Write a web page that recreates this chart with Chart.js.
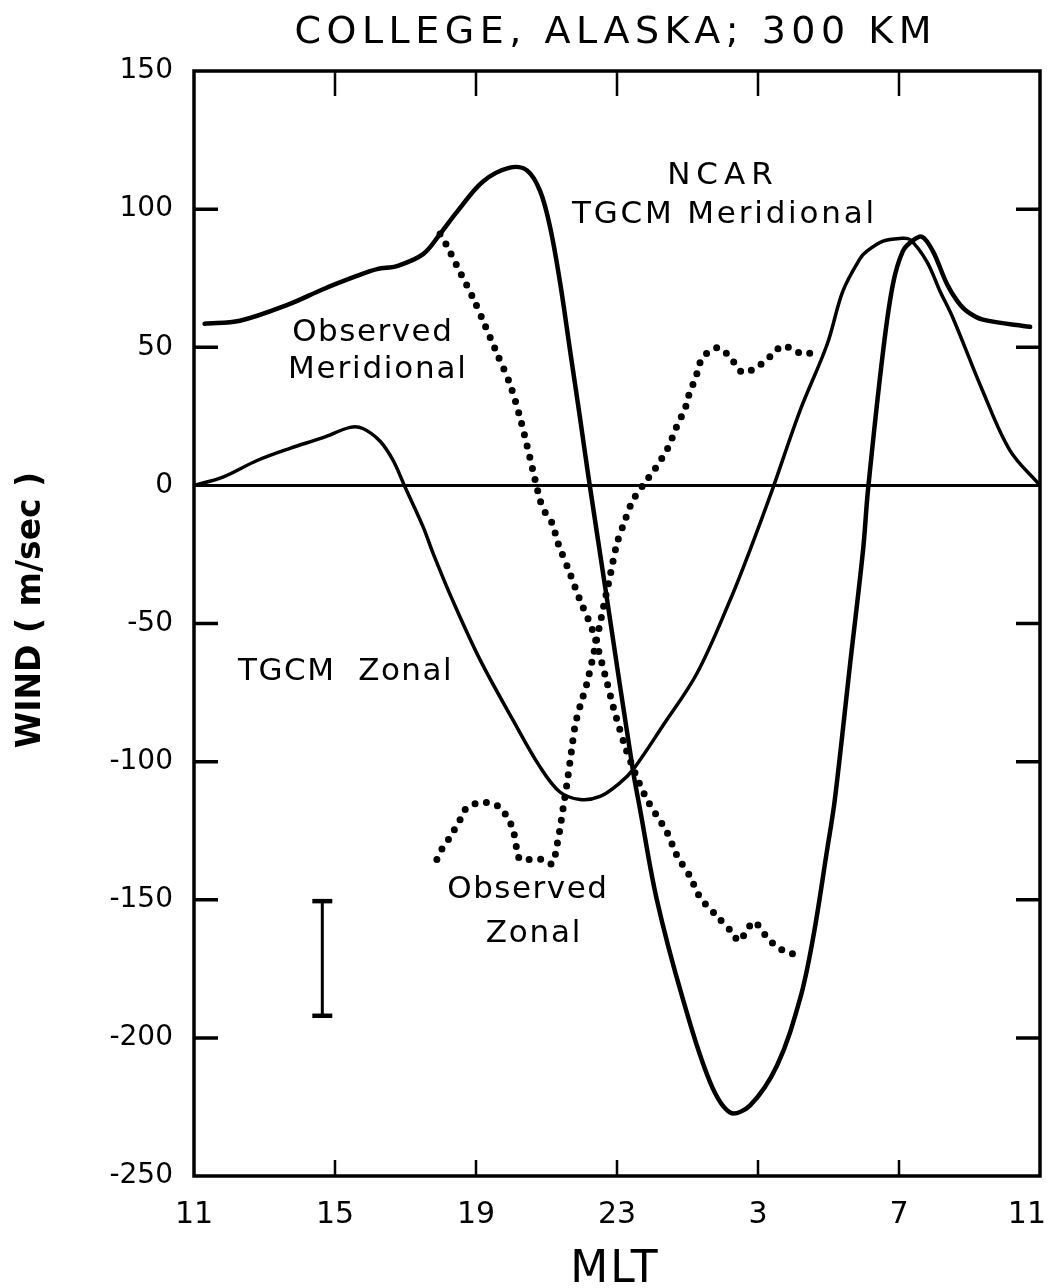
<!DOCTYPE html>
<html>
<head>
<meta charset="utf-8">
<title>College, Alaska; 300 km wind versus MLT</title>
<script src="https://cdn.jsdelivr.net/npm/chart.js@4.4.1/dist/chart.umd.min.js"></script>
<style>
  html, body { margin: 0; padding: 0; background: #fff; }
  #wrap { width: 1047px; height: 1288px; }
  canvas { display: block; }
</style>
</head>
<body>
<div id="wrap"><canvas id="chart" width="1047" height="1288"></canvas></div>
<script>
// MLT runs from 11 through midnight to 11 the next day; hours past 24
// are printed back on the clock face.
const hourTicks  = [11, 15, 19, 23, 27, 31, 35];
const hourLabels = ['11', '15', '19', '23', '3', '7', '11'];
const windTicks  = [150, 100, 50, 0, -50, -100, -150, -200, -250];

// NCAR TGCM meridional wind, m/s
const tgcmMeridHours = [11.30, 12.30, 13.72, 14.66, 15.62, 16.19, 16.76, 17.50, 17.98, 18.46,
  19.20, 19.96, 20.45, 20.82, 21.11, 21.39, 21.67, 21.95, 22.18, 22.72,
  23.45, 23.65, 24.13, 24.87, 25.64, 26.21, 26.77, 27.54, 28.19, 28.56,
  28.96, 29.18, 29.61, 29.98, 30.12, 30.55, 30.83, 31.11, 31.37, 31.65,
  31.96, 32.36, 32.65, 32.93, 33.38, 34.72];
const tgcmMeridWind = [58.5, 59.6, 65.7, 71.0, 75.8, 78.3, 79.4, 83.7, 91.0, 99.0,
  110.0, 115.0, 114.0, 106.5, 93.0, 73.0, 48.7, 24.5, 4.0, -41.5,
  -103.0, -117.0, -150.0, -186.0, -216.0, -227.0, -224.5, -210.0, -186.0, -164.0,
  -132.0, -113.7, -65.0, -23.5, -1.8, 48.7, 73.0, 84.8, 88.4, 90.0,
  84.8, 72.9, 66.8, 63.0, 60.0, 57.4];

// NCAR TGCM zonal wind, m/s
const tgcmZonalHours = [11.00, 11.82, 12.79, 13.72, 14.66, 15.43, 15.79, 16.28, 16.65, 16.99,
  17.50, 17.78, 18.35, 19.11, 20.05, 20.82, 21.38, 21.95, 22.52, 23.09,
  23.45, 24.30, 25.27, 26.21, 26.77, 27.40, 28.19, 28.96, 29.41, 29.89,
  30.09, 30.55, 31.03, 31.31, 31.79, 32.16, 32.53, 33.38, 34.15, 35.00];
const tgcmZonalWind = [0, 3, 9, 13.4, 17.3, 21, 20.6, 16, 9, -0.7,
  -15, -24.5, -42, -63, -85, -102, -111, -113.7, -112.6, -107.6,
  -103, -87, -68, -41.5, -23.5, -1.8, 27, 51, 70.4, 82,
  84.8, 88.4, 89.4, 89, 81, 70.4, 60.6, 34, 12.6, 0];

// Observed meridional wind, m/s
const obsMeridHours = [17.98, 18.18, 18.46, 18.91, 19.20, 19.60, 19.96, 20.25, 20.53, 20.82,
  20.96, 21.16, 21.33, 21.64, 21.95, 22.32, 22.72, 22.89, 23.23, 23.51,
  23.85, 24.42, 24.70, 25.07, 25.35, 25.84, 26.26, 26.46, 26.69, 26.89,
  27.28, 27.54, 27.82, 28.11];
const obsMeridWind = [91, 86.6, 79.4, 68, 59.6, 47.6, 36.8, 24.5, 10, -5.4,
  -9.7, -13.7, -21, -31, -41.5, -53, -71.5, -80, -94.5, -104,
  -113.7, -125.6, -134, -141.5, -149, -156, -161.7, -165, -161, -158,
  -164, -167, -169, -170];

// Observed zonal wind, m/s
const obsZonalHours = [17.89, 18.06, 18.26, 18.55, 18.74, 19.06, 19.40, 19.68, 19.88, 20.05,
  20.16, 20.25, 20.53, 20.87, 21.16, 21.30, 21.38, 21.47, 21.58, 21.70,
  21.81, 21.95, 22.15, 22.32, 22.52, 22.60, 22.80, 23.00, 23.23, 23.45,
  23.88, 24.08, 24.28, 24.45, 24.59, 24.73, 24.87, 24.99, 25.07, 25.21,
  25.30, 25.41, 25.64, 25.87, 26.12, 26.35, 26.57, 26.86, 27.14, 27.43,
  27.68, 27.96, 28.25, 28.53];
const obsZonalWind = [-135.4, -131, -127.4, -121, -116.6, -115, -115, -116.6, -120, -124.5,
  -131.8, -135.4, -135.4, -135.4, -137, -130, -124.5, -117, -108, -97,
  -87, -80, -71.5, -62, -50, -45, -33, -21, -12.6, -5.4,
  2.5, 6, 10, 13.7, 18, 22.4, 26, 30, 34.3, 38,
  42, 46, 48.7, 49.8, 47.6, 44, 40.8, 42, 44.4, 47.6,
  50.5, 49.5, 47.6, 48];

// Typical measurement uncertainty bar
const errorBarHours = [14.64, 14.64];
const errorBarWind  = [-150.5, -192];

// Curve labels, anchored in (MLT hour, wind) coordinates at their baseline centre
const notes = [
  { text: 'NCAR',            hour: 25.92, wind: 109.1,  spacing: 6 },
  { text: 'TGCM Meridional', hour: 26.01, wind: 95.0,   spacing: 2.8 },
  { text: 'Observed',        hour: 16.05, wind: 52.3,   spacing: 1.5 },
  { text: 'Meridional',      hour: 16.19, wind: 38.9,   spacing: 1.8 },
  { text: 'TGCM  Zonal',     hour: 15.28, wind: -70.6,  spacing: 1.5 },
  { text: 'Observed',        hour: 20.45, wind: -149.5, spacing: 1.5 },
  { text: 'Zonal',           hour: 20.62, wind: -165.4, spacing: 1.8 }
];

const toPoints = (hours, wind) => hours.map((h, i) => ({ x: h, y: wind[i] }));

const FONT = "'DejaVu Sans', 'Liberation Sans', sans-serif";

function spacedText(ctx, text, cx, baseline, spacing) {
  ctx.letterSpacing = spacing + 'px';
  const w = ctx.measureText(text).width - spacing;
  ctx.textAlign = 'left';
  ctx.textBaseline = 'alphabetic';
  ctx.fillText(text, cx - w / 2, baseline);
  ctx.letterSpacing = '0px';
}

// Box frame with inward ticks, the zero line, hour labels and all free text.
const framePlugin = {
  id: 'frame',
  beforeDatasetsDraw(chart) {
    const { ctx, chartArea: a, scales: { x, y } } = chart;
    ctx.save();
    ctx.strokeStyle = '#000';
    ctx.lineCap = 'butt';

    ctx.lineWidth = 3;
    const y0 = y.getPixelForValue(0);
    ctx.beginPath();
    ctx.moveTo(a.left, y0);
    ctx.lineTo(a.right, y0);
    ctx.stroke();

    ctx.lineWidth = 3.5;
    ctx.beginPath();
    ctx.rect(a.left, a.top, a.right - a.left, a.bottom - a.top);
    ctx.stroke();

    ctx.lineWidth = 3.5;
    ctx.beginPath();
    windTicks.forEach(v => {
      if (v === 0 || v === windTicks[0] || v === windTicks[windTicks.length - 1]) return;
      const py = y.getPixelForValue(v);
      ctx.moveTo(a.left, py);  ctx.lineTo(a.left + 24, py);
      ctx.moveTo(a.right, py); ctx.lineTo(a.right - 24, py);
    });
    ctx.stroke();

    ctx.lineWidth = 2.5;
    ctx.beginPath();
    hourTicks.slice(1, -1).forEach(h => {
      const px = x.getPixelForValue(h);
      ctx.moveTo(px, a.top);    ctx.lineTo(px, a.top + 25);
      ctx.moveTo(px, a.bottom); ctx.lineTo(px, a.bottom - 16);
    });
    ctx.stroke();
    ctx.restore();
  },
  afterDraw(chart) {
    const { ctx, chartArea: a, scales: { x, y } } = chart;
    const W = chart.width;
    ctx.save();
    ctx.fillStyle = '#000';

    // hour labels under the x axis, kept inside the canvas at the right end
    ctx.font = `30px ${FONT}`;
    ctx.textAlign = 'left';
    ctx.textBaseline = 'alphabetic';
    hourTicks.forEach((h, i) => {
      const label = hourLabels[i];
      const w = ctx.measureText(label).width;
      const left = Math.min(x.getPixelForValue(h) - w / 2, W - w - 1);
      ctx.fillText(label, left, a.bottom + 47);
    });

    ctx.font = `38px ${FONT}`;
    spacedText(ctx, 'COLLEGE, ALASKA; 300 KM', 613, 43, 5.5);

    ctx.font = `44px ${FONT}`;
    spacedText(ctx, 'MLT', 614, 1282, 2);

    ctx.save();
    ctx.translate(31, 610);
    ctx.rotate(-Math.PI / 2);
    ctx.font = `bold 33px ${FONT}`;
    ctx.letterSpacing = '0px';
    ctx.textAlign = 'center';
    ctx.textBaseline = 'middle';
    ctx.fillText('WIND ( m/sec )', 0, 0);
    ctx.restore();

    ctx.font = `31px ${FONT}`;
    notes.forEach(n => {
      spacedText(ctx, n.text, x.getPixelForValue(n.hour), y.getPixelForValue(n.wind), n.spacing);
    });
    ctx.restore();
  }
};

const solid = (data, width) => ({
  data, showLine: true, borderColor: '#000', borderWidth: width,
  pointRadius: 0, tension: 0.35,
  borderCapStyle: 'round', borderJoinStyle: 'round'
});
const dotted = (data) => ({
  data, showLine: true, borderColor: '#000', borderWidth: 7,
  borderDash: [0, 11.5], borderCapStyle: 'round',
  pointRadius: 0, tension: 0.3
});

const noPadding = s => { s.paddingLeft = 0; s.paddingRight = 0; s.paddingTop = 0; s.paddingBottom = 0; };

new Chart(document.getElementById('chart'), {
  type: 'scatter',
  data: {
    datasets: [
      solid(toPoints(tgcmMeridHours, tgcmMeridWind), 4.5),
      solid(toPoints(tgcmZonalHours, tgcmZonalWind), 3.5),
      dotted(toPoints(obsMeridHours, obsMeridWind)),
      dotted(toPoints(obsZonalHours, obsZonalWind)),
      {
        data: toPoints(errorBarHours, errorBarWind), showLine: true,
        borderColor: '#000', borderWidth: 3,
        pointStyle: 'line', pointRadius: 10, pointBorderWidth: 4.5,
        pointBorderColor: '#000'
      }
    ]
  },
  options: {
    responsive: false,
    animation: false,
    events: [],
    devicePixelRatio: 1,
    layout: { autoPadding: false, padding: { top: 71, right: 7, left: 0, bottom: 0 } },
    plugins: { legend: { display: false }, tooltip: { enabled: false }, title: { display: false } },
    scales: {
      x: {
        type: 'linear', position: 'bottom',
        min: hourTicks[0], max: hourTicks[hourTicks.length - 1],
        afterBuildTicks: s => { s.ticks = hourTicks.map(v => ({ value: v })); },
        afterFit: s => { s.height = 112; noPadding(s); },
        grid: { display: false, drawTicks: false },
        border: { display: false },
        ticks: { display: false }
      },
      y: {
        type: 'linear', position: 'left',
        min: windTicks[windTicks.length - 1], max: windTicks[0],
        afterBuildTicks: s => { s.ticks = windTicks.map(v => ({ value: v })); },
        afterFit: s => { s.width = 194; noPadding(s); },
        grid: { display: false, drawTicks: false },
        border: { display: false },
        ticks: {
          padding: 21, color: '#000',
          font: { family: FONT, size: 28 },
          callback: (v) => String(v)
        }
      }
    }
  },
  plugins: [framePlugin]
});
</script>
</body>
</html>
